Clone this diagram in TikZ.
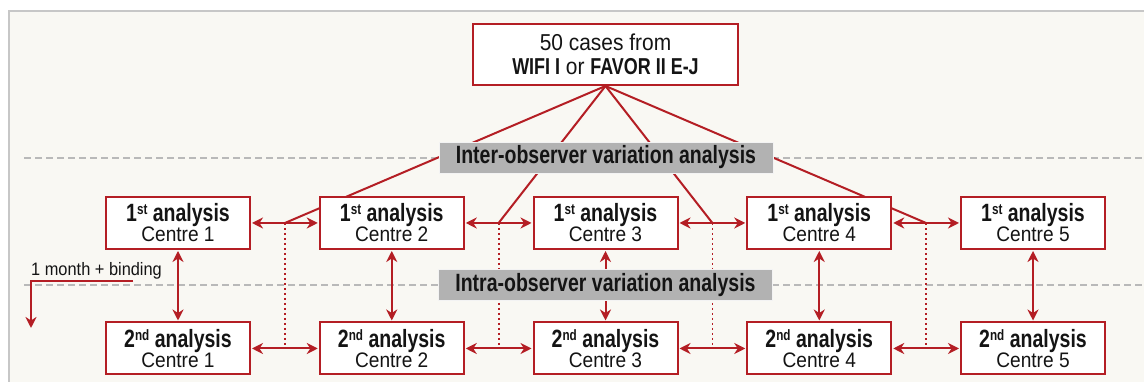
\documentclass[tikz,border=0pt]{standalone}
\usepackage{fontspec}
\setmainfont{Liberation Sans}[UprightFeatures={FakeStretch=0.91},BoldFeatures={FakeStretch=0.78}]
\usetikzlibrary{arrows.meta}

\definecolor{boxred}{RGB}{180,30,36}
\definecolor{paper}{RGB}{249,248,243}
\definecolor{bandgray}{RGB}{178,178,178}
\definecolor{rulegray}{RGB}{185,185,185}
\definecolor{ink}{RGB}{20,20,20}

\tikzset{
  analysis/.style={draw=boxred,line width=2pt,fill=white,text=ink,align=center,
    minimum width=144pt,minimum height=52pt,inner sep=0pt,
    font=\fontsize{21}{20}\selectfont},
  band/.style={fill=bandgray,draw=white!85!bandgray,line width=.8pt,text=ink,
    minimum width=334pt,minimum height=31pt,inner sep=0pt,
    font=\bfseries\fontsize{25}{25}\selectfont},
  link/.style={draw=boxred,line width=2pt},
  both/.style={link,{Stealth[length=11pt,width=11pt,inset=3.5pt]}-{Stealth[length=11pt,width=11pt,inset=3.5pt]},
    shorten <=1pt,shorten >=1pt},
  dots/.style={draw=boxred,line width=1.8pt,dash pattern=on 2pt off 3pt},
  separator/.style={draw=rulegray,line width=1.5pt,dash pattern=on 7pt off 4pt},
}

\newcommand{\ord}[1]{\raisebox{7.5pt}{\fontsize{15}{15}\selectfont #1}}
\newcommand{\first}[1]{{\bfseries\fontsize{25}{20}\selectfont 1\ord{st} analysis}\\Centre #1}
\newcommand{\second}[1]{{\bfseries\fontsize{25}{20}\selectfont 2\ord{nd} analysis}\\Centre #1}

\begin{document}
\begin{tikzpicture}[x=1pt,y=1pt]

        \useasboundingbox (0,0) rectangle (1144,382);
        \fill[white] (0,0) rectangle (1144,382);
        \draw[draw=rulegray!80,line width=1.5pt,fill=paper] (9,-10) rectangle (1160,371);

        % dashed separators
        \path[separator] (24,224) -- (1144,224);
        \path[separator] (24,97) -- (1144,97);

        \node[analysis,minimum width=265pt,minimum height=61pt,font=\fontsize{23}{24}\selectfont]
          (0) at (605.5,327.5) {50 cases from\\\textbf{WIFI I} or \textbf{FAVOR II E-J}};

        % junctions between the centres
        \coordinate (11) at (284.9,159);
        \coordinate (12) at (498.6,159);
        \coordinate (13) at (712.4,159);
        \coordinate (14) at (926.1,159);
        \coordinate (15) at (284.9,33.5);
        \coordinate (16) at (498.6,33.5);
        \coordinate (17) at (712.4,33.5);
        \coordinate (18) at (926.1,33.5);

        \foreach \j in {11,...,14}
          \path[link] (0.south) -- (\j);
        \path[dots] (11) -- (15);
        \path[dots] (12) -- (16);
        \path[dots] (13) -- (17);
        \path[dots] (14) -- (18);

        \begin{scope}[every node/.style={analysis}]
          \node (1)  at (178,159)     {\first{1}};
          \node (2)  at (391.75,159)  {\first{2}};
          \node (3)  at (605.5,159)   {\first{3}};
          \node (4)  at (819.25,159)  {\first{4}};
          \node (5)  at (1033,159)    {\first{5}};
          \node (6)  at (178,33.5)    {\second{1}};
          \node (7)  at (391.75,33.5) {\second{2}};
          \node (8)  at (605.5,33.5)  {\second{3}};
          \node (9)  at (819.25,33.5) {\second{4}};
          \node (10) at (1033,33.5)   {\second{5}};
        \end{scope}

        \begin{scope}[every edge/.style={both}]
          \path (1) edge (2);
          \path (2) edge (3);
          \path (3) edge (4);
          \path (4) edge (5);
          \path (6) edge (7);
          \path (7) edge (8);
          \path (8) edge (9);
          \path (9) edge (10);
          \path (1) edge (6);
          \path (2) edge (7);
          \path (3) edge (8);
          \path (4) edge (9);
          \path (5) edge (10);
        \end{scope}

        % bands lie over the links
        \node[band] (19) at (606,224.5) {Inter-observer variation analysis};
        \node[band] (20) at (605.5,97) {Intra-observer variation analysis};

        % time step on the left
        \node[anchor=base west,inner sep=0pt,text=ink,font=\fontsize{18}{18}\selectfont]
          (21) at (31,106) {1 month + binding};
        \coordinate (22) at (133,101);
        \coordinate (23) at (31,54);
        \draw[link,-{Stealth[length=11pt,width=11pt,inset=3.5pt]}] (22) -| (23);

      \end{tikzpicture}
\end{document}
